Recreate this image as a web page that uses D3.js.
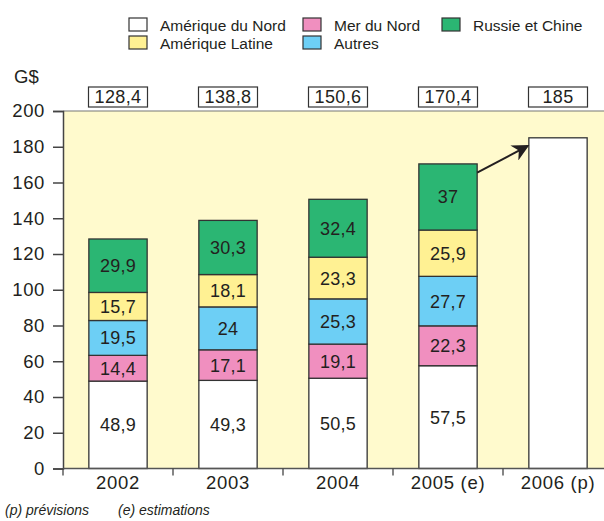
<!DOCTYPE html>
<html>
<head>
<meta charset="utf-8">
<script src="https://cdn.jsdelivr.net/npm/d3@7"></script>
<style>
  html, body { margin: 0; padding: 0; background: #fff; }
  svg text { font-family: "Liberation Sans", Arial, Helvetica, sans-serif; fill: #231f20; }
</style>
</head>
<body>
<svg id="chart" width="604" height="521"></svg>
<script>
// Investissements en exploration-production par zone (G$)
const years = ["2002", "2003", "2004", "2005 (e)", "2006 (p)"];
const seriesNames = ["Amérique du Nord", "Mer du Nord", "Autres", "Amérique Latine", "Russie et Chine"];
const seriesColors = ["#ffffff", "#f08fbf", "#6dcff5", "#fff193", "#2bb673"];
const ameriqueNord   = [48.9, 49.3, 50.5, 57.5];
const merDuNord      = [14.4, 17.1, 19.1, 22.3];
const autres         = [19.5, 24, 25.3, 27.7];
const ameriqueLatine = [15.7, 18.1, 23.3, 25.9];
const russieChine    = [29.9, 30.3, 32.4, 37];
const totals = [128.4, 138.8, 150.6, 170.4, 185];
const totalLabels = ["128,4", "138,8", "150,6", "170,4", "185"];
const yTicks = [0, 20, 40, 60, 80, 100, 120, 140, 160, 180, 200];
// légende : ordre d'affichage (deux lignes)
const legendOrder = [0, 1, 4, 3, 2];

const fmt = v => String(v).replace(".", ",");
const svg = d3.select("#chart");

const x = d3.scaleBand().domain(years).range([63, 613]).paddingInner(0.47).paddingOuter(0.235);
const y = d3.scaleLinear().domain([0, 200]).range([468.5, 111]);

// fond du graphique
svg.append("rect").attr("x", 63).attr("y", y(200)).attr("width", 541).attr("height", y(0) - y(200))
  .attr("fill", "#fffacd");
svg.append("line").attr("x1", 63).attr("x2", 604).attr("y1", y(200)).attr("y2", y(200))
  .attr("stroke", "#777").attr("stroke-width", 1.2);

// barres empilées
const stackRows = years.slice(0, 4).map((yr, i) => ({
  year: yr,
  v: [ameriqueNord[i], merDuNord[i], autres[i], ameriqueLatine[i], russieChine[i]]
}));
const stack = d3.stack().keys([0, 1, 2, 3, 4]).value((d, k) => d.v[k]);
const layers = stack(stackRows);

layers.forEach((layer, k) => {
  const g = svg.append("g");
  g.selectAll("rect").data(layer).join("rect")
    .attr("x", d => x(d.data.year))
    .attr("y", d => y(d[1]))
    .attr("width", x.bandwidth())
    .attr("height", d => y(d[0]) - y(d[1]))
    .attr("fill", seriesColors[k])
    .attr("stroke", "#333").attr("stroke-width", 1.3);
  g.selectAll("text").data(layer).join("text")
    .attr("x", d => x(d.data.year) + x.bandwidth() / 2)
    .attr("y", d => (y(d[0]) + y(d[1])) / 2)
    .attr("dy", "0.36em")
    .attr("text-anchor", "middle")
    .attr("font-size", 18).attr("letter-spacing", 0.3)
    .text(d => fmt(d.data.v[k]));
});

// barre 2006 (prévision, total seulement)
svg.append("rect")
  .attr("x", x(years[4])).attr("y", y(totals[4]))
  .attr("width", x.bandwidth()).attr("height", y(0) - y(totals[4]))
  .attr("fill", "#fff").attr("stroke", "#333").attr("stroke-width", 1.3);

// flèche 2005 -> 2006
svg.append("defs").append("marker")
  .attr("id", "head").attr("viewBox", "0 0 10 10").attr("refX", 9).attr("refY", 5)
  .attr("markerWidth", 8.5).attr("markerHeight", 8.5).attr("orient", "auto")
  .append("path").attr("d", "M0,0 L10,5 L0,10 L3,5 Z").attr("fill", "#231f20");
svg.append("line")
  .attr("x1", x(years[3]) + x.bandwidth()).attr("y1", y(165.5))
  .attr("x2", x(years[4]) - 1).attr("y2", y(180.5))
  .attr("stroke", "#231f20").attr("stroke-width", 2)
  .attr("marker-end", "url(#head)");

// totaux encadrés
const tot = svg.append("g").selectAll("g").data(years).join("g");
tot.append("rect")
  .attr("x", d => x(d) + x.bandwidth() / 2 - 29.5).attr("y", 87)
  .attr("width", 59).attr("height", 20)
  .attr("fill", "#fff").attr("stroke", "#333").attr("stroke-width", 1.2);
tot.append("text")
  .attr("x", d => x(d) + x.bandwidth() / 2).attr("y", 97)
  .attr("dy", "0.36em").attr("text-anchor", "middle")
  .attr("font-size", 18).attr("letter-spacing", 0.4)
  .text((d, i) => totalLabels[i]);

// axe Y
const yAxis = svg.append("g").attr("transform", "translate(63,0)")
  .call(d3.axisLeft(y).tickValues(yTicks).tickSize(10).tickPadding(8));
yAxis.select(".domain").attr("stroke", "#444").attr("stroke-width", 1.5);
yAxis.selectAll(".tick line").attr("stroke", "#444").attr("stroke-width", 1.5);
yAxis.selectAll(".tick text").attr("font-size", 18.5).attr("letter-spacing", 0.6)
  .attr("font-family", "Liberation Sans, Arial, sans-serif").attr("fill", "#231f20");

svg.append("text").attr("x", 14).attr("y", 83).attr("font-size", 18.5).text("G$");

// axe X : traits entre les catégories
const xAxisG = svg.append("g");
xAxisG.append("line").attr("x1", 63).attr("x2", 604).attr("y1", y(0)).attr("y2", y(0))
  .attr("stroke", "#555").attr("stroke-width", 1.5);
xAxisG.selectAll("line.sep").data(years).join("line").attr("class", "sep")
  .attr("x1", d => x(d) - x.step() * x.paddingInner() / 2)
  .attr("x2", d => x(d) - x.step() * x.paddingInner() / 2)
  .attr("y1", y(0)).attr("y2", y(0) + 7)
  .attr("stroke", "#444").attr("stroke-width", 1.3);
xAxisG.selectAll("text").data(years).join("text")
  .attr("x", d => x(d) + x.bandwidth() / 2).attr("y", 489)
  .attr("text-anchor", "middle").attr("font-size", 18.5).attr("letter-spacing", 0.7)
  .text(d => d);

// légende
const legPos = [[129, 18], [303, 18], [442, 18], [129, 36], [303, 36]];
const leg = svg.append("g").selectAll("g").data(legendOrder).join("g")
  .attr("transform", (s, i) => `translate(${legPos[i][0]},${legPos[i][1]})`);
leg.append("rect").attr("width", 18).attr("height", 13)
  .attr("fill", s => seriesColors[s]).attr("stroke", "#333").attr("stroke-width", 1.2);
leg.append("text").attr("x", 31).attr("y", 7).attr("dy", "0.36em")
  .attr("font-size", 15.5).text(s => seriesNames[s]);

// notes
svg.append("text").attr("x", 5).attr("y", 515).attr("font-size", 14).attr("font-style", "italic")
  .text("(p) prévisions");
svg.append("text").attr("x", 118).attr("y", 515).attr("font-size", 14).attr("font-style", "italic")
  .text("(e) estimations");
</script>
</body>
</html>
